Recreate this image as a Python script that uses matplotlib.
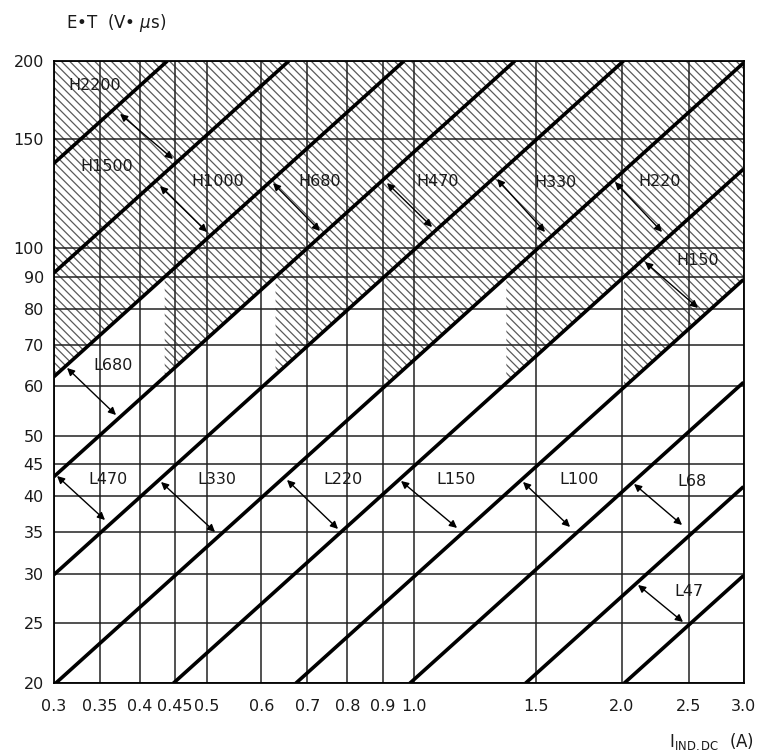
import numpy as np
import matplotlib.pyplot as plt
from matplotlib.ticker import FixedLocator, FixedFormatter, NullLocator

# ------------------------------------------------------------
# Inductor selection chart: E*T (V*us) vs I_IND,DC (A), log-log
# each thick line is E*T = k * I
# ------------------------------------------------------------
k_lines = [456, 304, 207, 143, 99.5, 66.2, 44.7, 29.7, 20.3, 13.8, 9.93]

x_ticks = [0.3, 0.35, 0.4, 0.45, 0.5, 0.6, 0.7, 0.8, 0.9, 1.0, 1.5, 2.0, 2.5, 3.0]
x_tick_labels = ["0.3", "0.35", "0.4", "0.45", "0.5", "0.6", "0.7", "0.8",
                 "0.9", "1.0", "1.5", "2.0", "2.5", "3.0"]
y_ticks = [20, 25, 30, 35, 40, 45, 50, 60, 70, 80, 90, 100, 150, 200]
y_tick_labels = [str(v) for v in y_ticks]

x_min, x_max = 0.3, 3.0
y_min, y_max = 20, 200
y_hatch = 90   # everything above is hatched, below only a saw-tooth

region_names = ["H2200", "H1500", "H1000", "H680", "H470", "H330", "H220", "H150",
                "L680", "L470", "L330", "L220", "L150", "L100", "L68", "L47"]

# label centres (axes fraction)
label_xy = [(0.060, 0.961), (0.0775, 0.831), (0.238, 0.806), (0.386, 0.806),
            (0.557, 0.807), (0.727, 0.804), (0.878, 0.807), (0.934, 0.679),
            (0.086, 0.511), (0.079, 0.327), (0.237, 0.327), (0.420, 0.328),
            (0.583, 0.327), (0.762, 0.327), (0.925, 0.325), (0.921, 0.148)]

# double arrows across each band (axes fraction), H2200 has none
arrow_xy = [None,
            ((0.0964, 0.915), (0.1732, 0.8425)),
            ((0.1543, 0.7991), (0.2225, 0.7252)),
            ((0.3181, 0.8039), (0.3862, 0.7268)),
            ((0.4833, 0.8039), (0.5486, 0.7332)),
            ((0.6428, 0.8104), (0.7123, 0.7252)),
            ((0.8138, 0.8055), (0.8819, 0.7252)),
            ((0.8572, 0.6770), (0.9341, 0.6031)),
            ((0.0196, 0.5067), (0.0906, 0.4311)),
            ((0.0051, 0.3331), (0.0746, 0.2624)),
            ((0.1558, 0.3235), (0.2341, 0.2431)),
            ((0.3384, 0.3267), (0.4123, 0.2480)),
            ((0.5036, 0.3251), (0.5848, 0.2496)),
            ((0.6804, 0.3235), (0.7486, 0.2512)),
            ((0.8413, 0.3203), (0.9109, 0.2544)),
            ((0.8471, 0.1580), (0.9123, 0.0985))]

plt.rcParams['font.family'] = 'DejaVu Sans'
plt.rcParams['hatch.linewidth'] = 0.9

fig = plt.figure(figsize=(7.58, 7.55), dpi=100)
ax = fig.add_axes([0.0706, 0.0950, 0.9103, 0.8242])
ax.set_xscale('log')
ax.set_yscale('log')
ax.set_xlim(x_min, x_max)
ax.set_ylim(y_min, y_max)

hatch_kw = dict(facecolor='none', edgecolor='#5a5a5a', hatch='\\\\\\\\', linewidth=0, zorder=1)

# hatched band on top
ax.fill_between([x_min, x_max], y_hatch, y_max, **hatch_kw)

# saw-tooth hatch below 90
x_cross = y_hatch / np.array(k_lines)
for j in range(1, len(k_lines)):
    a = max(x_cross[j - 1], x_min)
    b = min(x_cross[j], x_max)
    if b <= a:
        continue
    xs = np.geomspace(a, b, 60)
    ax.fill_between(xs, k_lines[j] * xs, y_hatch, **hatch_kw)

# thick lines
for k in k_lines:
    x0 = max(x_min, y_min / k)
    x1 = min(x_max, y_max / k)
    xs = np.array([x0, x1])
    ax.plot(xs, k * xs, color='black', linewidth=2.6, solid_capstyle='butt', zorder=4)

# grid / ticks
ax.xaxis.set_major_locator(FixedLocator(x_ticks))
ax.xaxis.set_major_formatter(FixedFormatter(x_tick_labels))
ax.yaxis.set_major_locator(FixedLocator(y_ticks))
ax.yaxis.set_major_formatter(FixedFormatter(y_tick_labels))
ax.xaxis.set_minor_locator(NullLocator())
ax.yaxis.set_minor_locator(NullLocator())
ax.grid(True, color='#222222', linewidth=1.1)
ax.set_axisbelow(False)
for gl in ax.get_xgridlines() + ax.get_ygridlines():
    gl.set_zorder(2)
ax.tick_params(length=0, labelsize=11.5, colors='#1a1a1a')
ax.tick_params(axis='x', pad=11)
ax.tick_params(axis='y', pad=7)
for sp in ax.spines.values():
    sp.set_linewidth(1.3)
    sp.set_zorder(5)

# region names and arrows
for name, (lx, ly), arr in zip(region_names, label_xy, arrow_xy):
    ax.text(lx, ly, name, transform=ax.transAxes, ha='center', va='center',
            fontsize=11.5, color='#1a1a1a', zorder=6)
    if arr is not None:
        ax.annotate('', xy=arr[1], xytext=arr[0], xycoords='axes fraction',
                    textcoords='axes fraction', zorder=6,
                    arrowprops=dict(arrowstyle='<|-|>', color='black', lw=1.0,
                                    mutation_scale=11, shrinkA=0, shrinkB=0))

fig.text(66 / 758, 1 - 23 / 755, "E•T  (V• $\\mu$s)", fontsize=12,
         ha='left', va='center', color='#1a1a1a')
fig.text(754 / 758, 1 - 741 / 755, "$\\mathregular{I_{IND.DC}}$  (A)", fontsize=12,
         ha='right', va='center', color='#1a1a1a')

fig.savefig('out.png', dpi=100)
